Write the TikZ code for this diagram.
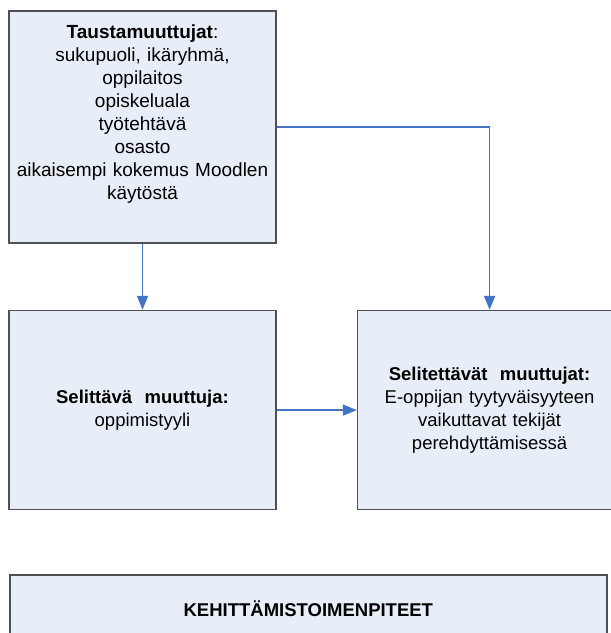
\documentclass[tikz,border=0pt]{standalone}
\usepackage{fontspec}
\setmainfont{Liberation Sans}
\usepackage{xcolor}
\usepackage{tikz}
\usetikzlibrary{arrows.meta,positioning}
\definecolor{planfill}{RGB}{232,238,247}
\definecolor{planline}{RGB}{78,80,84}
\definecolor{planblue}{RGB}{68,114,196}

\begin{document}
\begin{tikzpicture}[
  x=1pt, y=-1pt,
  box/.style={draw=planline, line width=1.6pt, fill=planfill, inner sep=0pt,
              align=center, font=\fontsize{18.5}{23}\selectfont},
  arrow/.style={-{Triangle[length=14pt, width=11pt]}, line width=1.5pt, color=planblue}
]
  \useasboundingbox[fill=white] (0,0) rectangle (611,633);

  \node[box, minimum width=267pt, minimum height=232pt, text width=262pt,
        font=\fontsize{19}{23}\selectfont] (tausta) at (142.5,127)
        {\textbf{Taustamuuttujat}:\\sukupuoli, ikäryhmä,\\oppilaitos\\opiskeluala\\työtehtävä\\osasto\\aikaisempi kokemus Moodlen\\käytöstä\\\strut};
  \node[box, minimum width=267pt, minimum height=199pt, text width=255pt, below=66pt of tausta] (selittava)
        {\textbf{Selittävä\ \ muuttuja:}\\oppimistyyli};
  \node[box, minimum width=264pt, minimum height=199pt, text width=250pt, right=80pt of selittava] (selitettavat)
        {\textbf{Selitettävät\ \ muuttujat:}\\E-oppijan tyytyväisyyteen\\vaikuttavat tekijät\\perehdyttämisessä};
  \node[box, minimum width=597pt, minimum height=68pt, anchor=north west] (toimet) at (9,574)
        {\textbf{KEHITTÄMISTOIMENPITEET}};

  \draw[arrow] (tausta) -- (selittava);
  \draw[arrow] (tausta.east) -| (selitettavat.north);
  \draw[arrow] (selittava) -- (selitettavat);
\end{tikzpicture}
\end{document}
